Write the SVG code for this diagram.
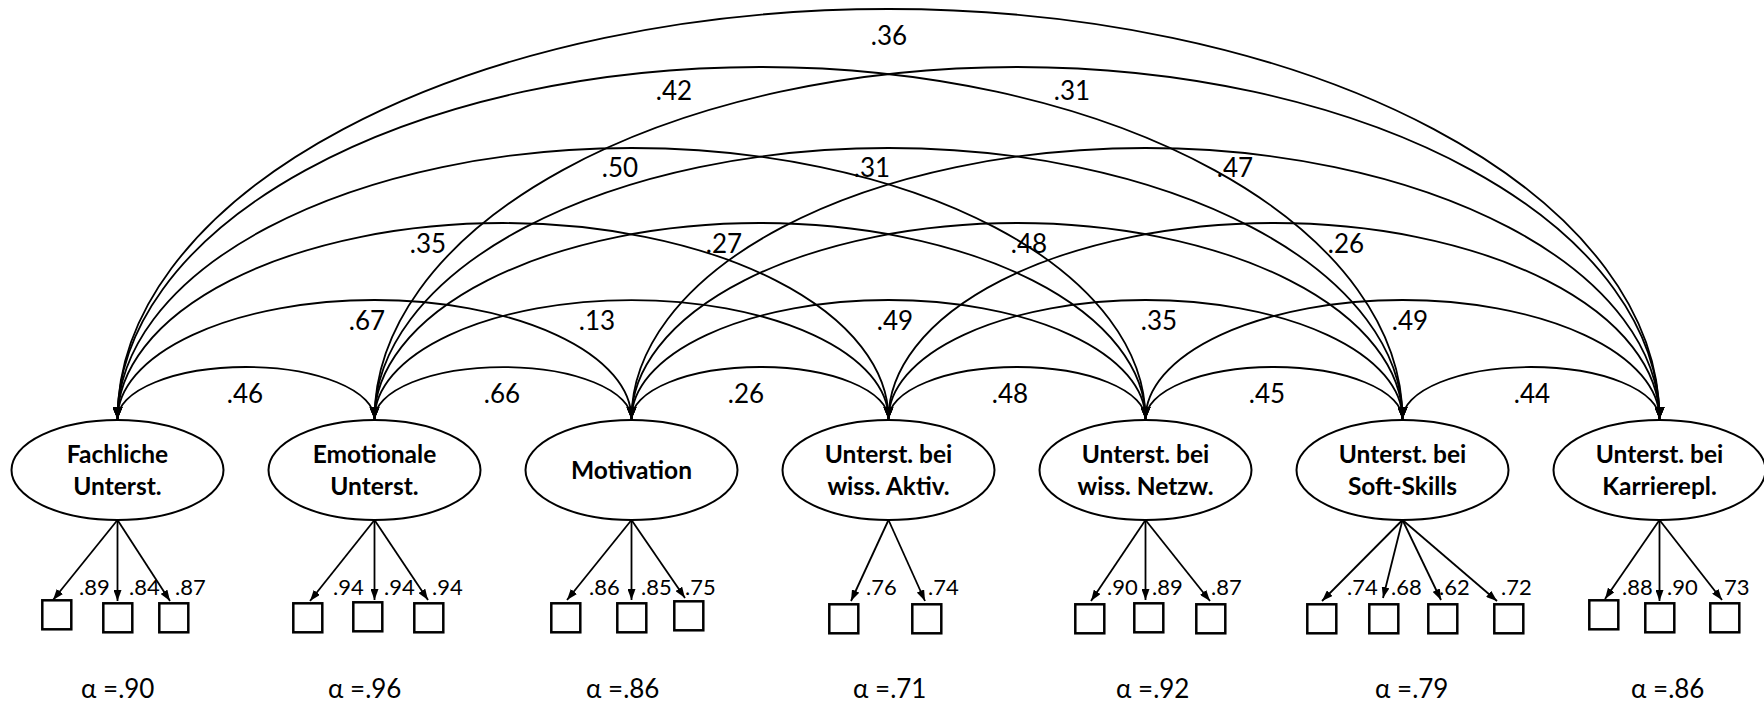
<svg xmlns="http://www.w3.org/2000/svg" width="1764" height="707" viewBox="0 0 1764 707">
  <defs>
    <marker id="head" viewBox="0 0 12 10" refX="12" refY="5" markerWidth="12" markerHeight="10" markerUnits="userSpaceOnUse" orient="auto-start-reverse">
      <path d="M0,0 L12,5 L0,10 z" fill="#000"/>
    </marker>
    <marker id="headSmall" viewBox="0 0 11 8" refX="11" refY="4" markerWidth="11" markerHeight="8" markerUnits="userSpaceOnUse" orient="auto">
      <path d="M0,0 L11,4 L0,8 z" fill="#000"/>
    </marker>
    <style>
      .factor { fill: #fff; stroke: #000; stroke-width: 2; }
      .factor-label { font-family: Lato, "Noto Sans", "DejaVu Sans", sans-serif; font-weight: bold; font-size: 24.5px; text-anchor: middle; fill: #000; }
      .item { fill: #fff; stroke: #000; stroke-width: 2.5; }
      .corr { fill: none; stroke: #000; stroke-width: 1.8; marker-start: url(#head); marker-end: url(#head); }
      .load { fill: none; stroke: #000; stroke-width: 1.8; marker-end: url(#headSmall); }
      .r { font-family: Lato, "Noto Sans", "DejaVu Sans", sans-serif; font-size: 26px; text-anchor: middle; fill: #000; }
      .l { font-family: Lato, "Noto Sans", "DejaVu Sans", sans-serif; font-size: 22px; fill: #000; }
      .alpha { font-family: Lato, "Noto Sans", "DejaVu Sans", sans-serif; font-size: 26px; fill: #000; }
    </style>
  </defs>
  <rect width="1764" height="707" fill="#fff"/>

  <!-- latent factors -->
  <g id="fachlich">
    <ellipse class="factor" cx="117.5" cy="470" rx="106" ry="50"/>
    <text class="factor-label" x="117.5" y="463">Fachliche</text>
    <text class="factor-label" x="117.5" y="495">Unterst.</text>
  </g>
  <g id="emotional">
    <ellipse class="factor" cx="374.5" cy="470" rx="106" ry="50"/>
    <text class="factor-label" x="374.5" y="463">Emotionale</text>
    <text class="factor-label" x="374.5" y="495">Unterst.</text>
  </g>
  <g id="motivation">
    <ellipse class="factor" cx="631.5" cy="470" rx="106" ry="50"/>
    <text class="factor-label" x="631.5" y="479">Motivation</text>
  </g>
  <g id="aktiv">
    <ellipse class="factor" cx="888.5" cy="470" rx="106" ry="50"/>
    <text class="factor-label" x="888.5" y="463">Unterst. bei</text>
    <text class="factor-label" x="888.5" y="495">wiss. Aktiv.</text>
  </g>
  <g id="netzwerk">
    <ellipse class="factor" cx="1145.5" cy="470" rx="106" ry="50"/>
    <text class="factor-label" x="1145.5" y="463">Unterst. bei</text>
    <text class="factor-label" x="1145.5" y="495">wiss. Netzw.</text>
  </g>
  <g id="softskills">
    <ellipse class="factor" cx="1402.5" cy="470" rx="106" ry="50"/>
    <text class="factor-label" x="1402.5" y="463">Unterst. bei</text>
    <text class="factor-label" x="1402.5" y="495">Soft-Skills</text>
  </g>
  <g id="karriere">
    <ellipse class="factor" cx="1659.5" cy="470" rx="106" ry="50"/>
    <text class="factor-label" x="1659.5" y="463">Unterst. bei</text>
    <text class="factor-label" x="1659.5" y="495">Karrierepl.</text>
  </g>

  <!-- indicator items -->
  <g id="items-fachlich">
    <rect class="item" x="42.3" y="600.3" width="29" height="29"/>
    <rect class="item" x="103.3" y="603.3" width="29" height="29"/>
    <rect class="item" x="159.3" y="603.3" width="29" height="29"/>
  </g>
  <g id="items-emotional">
    <rect class="item" x="293.3" y="603.3" width="29" height="29"/>
    <rect class="item" x="353.3" y="602.3" width="29" height="29"/>
    <rect class="item" x="414.3" y="603.3" width="29" height="29"/>
  </g>
  <g id="items-motivation">
    <rect class="item" x="551.3" y="603.3" width="29" height="29"/>
    <rect class="item" x="617.3" y="603.3" width="29" height="29"/>
    <rect class="item" x="674.3" y="601.3" width="29" height="29"/>
  </g>
  <g id="items-aktiv">
    <rect class="item" x="829.3" y="604.3" width="29" height="29"/>
    <rect class="item" x="912.3" y="604.3" width="29" height="29"/>
  </g>
  <g id="items-netzwerk">
    <rect class="item" x="1075.3" y="604.3" width="29" height="29"/>
    <rect class="item" x="1134.3" y="603.3" width="29" height="29"/>
    <rect class="item" x="1196.3" y="604.3" width="29" height="29"/>
  </g>
  <g id="items-softskills">
    <rect class="item" x="1307.3" y="604.3" width="29" height="29"/>
    <rect class="item" x="1369.3" y="604.3" width="29" height="29"/>
    <rect class="item" x="1428.3" y="604.3" width="29" height="29"/>
    <rect class="item" x="1494.3" y="604.3" width="29" height="29"/>
  </g>
  <g id="items-karriere">
    <rect class="item" x="1589.3" y="600.3" width="29" height="29"/>
    <rect class="item" x="1645.3" y="603.3" width="29" height="29"/>
    <rect class="item" x="1710.3" y="603.3" width="29" height="29"/>
  </g>

  <!-- connectors: factor correlations (double-headed arcs) and loadings -->
  <g id="connectors">
    <path class="corr" d="M117.5,419 A128.5,52 0 0 1 374.5,419"/>
    <path class="corr" d="M374.5,419 A128.5,52 0 0 1 631.5,419"/>
    <path class="corr" d="M631.5,419 A128.5,52 0 0 1 888.5,419"/>
    <path class="corr" d="M888.5,419 A128.5,52 0 0 1 1145.5,419"/>
    <path class="corr" d="M1145.5,419 A128.5,52 0 0 1 1402.5,419"/>
    <path class="corr" d="M1402.5,419 A128.5,52 0 0 1 1659.5,419"/>

    <path class="corr" d="M117.5,419 A257,119 0 0 1 631.5,419"/>
    <path class="corr" d="M374.5,419 A257,119 0 0 1 888.5,419"/>
    <path class="corr" d="M631.5,419 A257,119 0 0 1 1145.5,419"/>
    <path class="corr" d="M888.5,419 A257,119 0 0 1 1402.5,419"/>
    <path class="corr" d="M1145.5,419 A257,119 0 0 1 1659.5,419"/>

    <path class="corr" d="M117.5,419 A385.5,196 0 0 1 888.5,419"/>
    <path class="corr" d="M374.5,419 A385.5,196 0 0 1 1145.5,419"/>
    <path class="corr" d="M631.5,419 A385.5,196 0 0 1 1402.5,419"/>
    <path class="corr" d="M888.5,419 A385.5,196 0 0 1 1659.5,419"/>

    <path class="corr" d="M117.5,419 A514,271 0 0 1 1145.5,419"/>
    <path class="corr" d="M374.5,419 A514,271 0 0 1 1402.5,419"/>
    <path class="corr" d="M631.5,419 A514,271 0 0 1 1659.5,419"/>

    <path class="corr" d="M117.5,419 A642.5,352 0 0 1 1402.5,419"/>
    <path class="corr" d="M374.5,419 A642.5,352 0 0 1 1659.5,419"/>

    <path class="corr" d="M117.5,419 A771,410 0 0 1 1659.5,419"/>

    <path class="load" d="M117.5,520 L53,600"/>
    <path class="load" d="M117.5,520 L117.5,601"/>
    <path class="load" d="M117.5,520 L170,601"/>
    <path class="load" d="M374.5,520 L310,601"/>
    <path class="load" d="M374.5,520 L374.5,600"/>
    <path class="load" d="M374.5,520 L428,600"/>
    <path class="load" d="M631.5,520 L567,600"/>
    <path class="load" d="M631.5,520 L631.5,600"/>
    <path class="load" d="M631.5,520 L685,598"/>
    <path class="load" d="M888.5,520 L851,601"/>
    <path class="load" d="M888.5,520 L925,601"/>
    <path class="load" d="M1145.5,520 L1091,601"/>
    <path class="load" d="M1145.5,520 L1145.5,600"/>
    <path class="load" d="M1145.5,520 L1210,601"/>
    <path class="load" d="M1402.5,520 L1322,601"/>
    <path class="load" d="M1402.5,520 L1383,598"/>
    <path class="load" d="M1402.5,520 L1441,600"/>
    <path class="load" d="M1402.5,520 L1497,601"/>
    <path class="load" d="M1659.5,520 L1605,599"/>
    <path class="load" d="M1659.5,520 L1659.5,601"/>
    <path class="load" d="M1659.5,520 L1722,600"/>
  </g>

  <!-- correlation coefficients -->
  <g id="correlations">
    <text class="r" x="245" y="403">.46</text>
    <text class="r" x="502" y="403">.66</text>
    <text class="r" x="746" y="403">.26</text>
    <text class="r" x="1010" y="403">.48</text>
    <text class="r" x="1267" y="403">.45</text>
    <text class="r" x="1532" y="403">.44</text>

    <text class="r" x="367" y="330">.67</text>
    <text class="r" x="597" y="330">.13</text>
    <text class="r" x="895" y="330">.49</text>
    <text class="r" x="1159" y="330">.35</text>
    <text class="r" x="1410" y="330">.49</text>

    <text class="r" x="428" y="253">.35</text>
    <text class="r" x="724" y="253">.27</text>
    <text class="r" x="1029" y="253">.48</text>
    <text class="r" x="1346" y="253">.26</text>

    <text class="r" x="620" y="177">.50</text>
    <text class="r" x="872" y="177">.31</text>
    <text class="r" x="1235" y="177">.47</text>

    <text class="r" x="674" y="100">.42</text>
    <text class="r" x="1072" y="100">.31</text>

    <text class="r" x="889" y="45">.36</text>
  </g>

  <!-- factor loadings -->
  <g id="loadings">
    <text class="l" x="79" y="595">.89</text>
    <text class="l" x="129" y="595">.84</text>
    <text class="l" x="175" y="595">.87</text>
    <text class="l" x="333" y="595">.94</text>
    <text class="l" x="384" y="595">.94</text>
    <text class="l" x="432" y="595">.94</text>
    <text class="l" x="589" y="595">.86</text>
    <text class="l" x="641" y="595">.85</text>
    <text class="l" x="685" y="595">.75</text>
    <text class="l" x="866" y="595">.76</text>
    <text class="l" x="928" y="595">.74</text>
    <text class="l" x="1107" y="595">.90</text>
    <text class="l" x="1152" y="595">.89</text>
    <text class="l" x="1211" y="595">.87</text>
    <text class="l" x="1347" y="595">.74</text>
    <text class="l" x="1391" y="595">.68</text>
    <text class="l" x="1439" y="595">.62</text>
    <text class="l" x="1501" y="595">.72</text>
    <text class="l" x="1622" y="595">.88</text>
    <text class="l" x="1667" y="595">.90</text>
    <text class="l" x="1724" y="595">73</text>
  </g>

  <!-- reliabilities -->
  <g id="reliabilities">
    <text class="alpha" x="81" y="698">α =.90</text>
    <text class="alpha" x="328" y="698">α =.96</text>
    <text class="alpha" x="586" y="698">α =.86</text>
    <text class="alpha" x="853" y="698">α =.71</text>
    <text class="alpha" x="1116" y="698">α =.92</text>
    <text class="alpha" x="1375" y="698">α =.79</text>
    <text class="alpha" x="1631" y="698">α =.86</text>
  </g>
</svg>
